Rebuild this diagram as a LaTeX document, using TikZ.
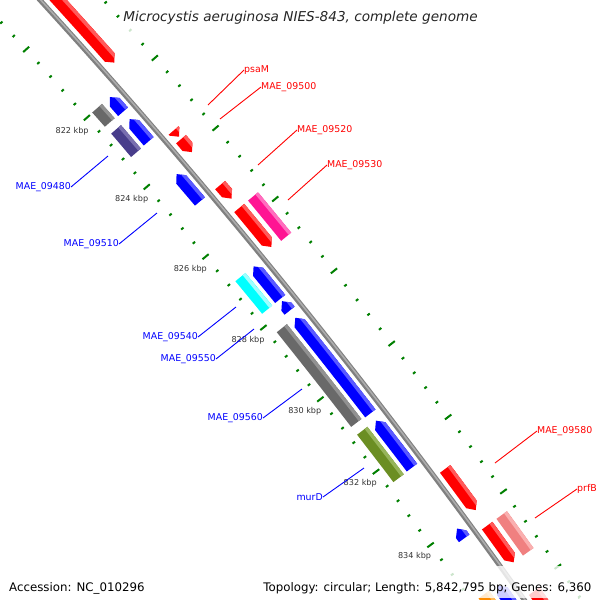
\documentclass[tikz,border=0pt]{standalone}
\usepackage{fontspec}
\setmainfont{DejaVu Sans}
\definecolor{gRed}{RGB}{255,0,0}
\definecolor{gRedL}{RGB}{255,90,90}
\definecolor{gBlue}{RGB}{0,0,255}
\definecolor{gBlueL}{RGB}{90,90,255}
\definecolor{gGray}{RGB}{105,105,105}
\definecolor{gGrayL}{RGB}{145,145,145}
\definecolor{gSlate}{RGB}{72,61,139}
\definecolor{gSlateL}{RGB}{120,110,175}
\definecolor{gCyan}{RGB}{0,255,255}
\definecolor{gCyanL}{RGB}{160,255,255}
\definecolor{gOlive}{RGB}{107,142,35}
\definecolor{gOliveL}{RGB}{150,180,90}
\definecolor{gPink}{RGB}{255,20,147}
\definecolor{gPinkL}{RGB}{255,110,190}
\definecolor{gSalmon}{RGB}{240,128,128}
\definecolor{gSalmonL}{RGB}{250,175,175}
\definecolor{gOrange}{RGB}{255,140,0}
\definecolor{gOrangeL}{RGB}{255,185,90}
\definecolor{gGreen}{RGB}{0,128,0}
\definecolor{gBack}{RGB}{128,128,128}
\definecolor{gBackL}{RGB}{172,172,172}
\newcommand\arrowh{0.064}
% forward gene: start, end, inner r, outer r, colour, light colour (tip at end)
\newcommand\FwdPath[4]{([shift={(C)}]#1:#3) arc[start angle=#1,end angle=\gneck,radius=#3] -- ([shift={(C)}]#2:\gmid) -- ([shift={(C)}]\gneck:#4) arc[start angle=\gneck,end angle=#1,radius=#4] -- cycle}
\newcommand\FwdGene[6]{%
  \pgfmathsetmacro\gmid{(#3+#4)/2}%
  \pgfmathsetmacro\gneck{#2-\arrowh}%
  \begin{scope}
    \fill[#5] ([shift={(C)}]#1:#3) arc[start angle=#1,end angle=\gneck,radius=#3] -- ([shift={(C)}]#2:\gmid) -- ([shift={(C)}]\gneck:#4) arc[start angle=\gneck,end angle=#1,radius=#4] -- cycle;
    \clip ([shift={(C)}]#1:#3) arc[start angle=#1,end angle=\gneck,radius=#3] -- ([shift={(C)}]#2:\gmid) -- ([shift={(C)}]\gneck:#4) arc[start angle=\gneck,end angle=#1,radius=#4] -- cycle;
    \draw[#6,line width=3.5pt] ([shift={(C)}]#1-0.1:#4-1.75) arc[start angle=#1-0.1,end angle=#2+0.1,radius=#4-1.75];
  \end{scope}}
% reverse gene: tip at start
\newcommand\RevGene[6]{%
  \pgfmathsetmacro\gmid{(#3+#4)/2}%
  \pgfmathsetmacro\gneck{#1+\arrowh}%
  \begin{scope}
    \fill[#5] ([shift={(C)}]#1:\gmid) -- ([shift={(C)}]\gneck:#4) arc[start angle=\gneck,end angle=#2,radius=#4] -- ([shift={(C)}]#2:#3) arc[start angle=#2,end angle=\gneck,radius=#3] -- cycle;
    \clip ([shift={(C)}]#1:\gmid) -- ([shift={(C)}]\gneck:#4) arc[start angle=\gneck,end angle=#2,radius=#4] -- ([shift={(C)}]#2:#3) arc[start angle=#2,end angle=\gneck,radius=#3] -- cycle;
    \draw[#6,line width=3.5pt] ([shift={(C)}]#1-0.1:#4-1.75) arc[start angle=#1-0.1,end angle=#2+0.1,radius=#4-1.75];
  \end{scope}}
% plain box feature
\newcommand\BoxFeat[6]{%
  \begin{scope}
    \fill[#5] ([shift={(C)}]#1:#3) arc[start angle=#1,end angle=#2,radius=#3] -- ([shift={(C)}]#2:#4) arc[start angle=#2,end angle=#1,radius=#4] -- cycle;
    \clip ([shift={(C)}]#1:#3) arc[start angle=#1,end angle=#2,radius=#3] -- ([shift={(C)}]#2:#4) arc[start angle=#2,end angle=#1,radius=#4] -- cycle;
    \draw[#6,line width=3.5pt] ([shift={(C)}]#1-0.1:#4-1.75) arc[start angle=#1-0.1,end angle=#2+0.1,radius=#4-1.75];
  \end{scope}}
\tikzset{
  glabR/.style={font=\fontsize{9.4}{11}\selectfont, text=gRed, inner sep=0pt, anchor=west},
  glabB/.style={font=\fontsize{9.4}{11}\selectfont, text=gBlue, inner sep=0pt, anchor=east},
  leadR/.style={draw=gRed, line width=0.9pt},
  leadB/.style={draw=gBlue, line width=0.9pt},
  tlab/.style={font=\fontsize{8.1}{10}\selectfont, text=black!80, inner sep=0pt},
  tickmin/.style={draw=gGreen, line width=2pt},
  tickmaj/.style={draw=gGreen, line width=2pt},
  veil/.style={fill=white, fill opacity=0.8},
  infotext/.style={font=\fontsize{11.8}{14}\selectfont, inner sep=0pt, text=black}
}
\begin{document}
\begin{tikzpicture}[x=1pt,y=-1pt]
\useasboundingbox (0,0) rectangle (600,600);
\fill[white] (0,0) rectangle (600,600);
\clip (0,0) rectangle (600,600);
\coordinate (C) at (-4621,4256);
% rulers
\foreach \i in {-17,...,36}{
  \pgfmathsetmacro\ang{-40.48+\i*0.16712}
  \pgfmathtruncatemacro\ismaj{mod(abs(\i),5)==0}
  \ifnum\ismaj=1
    \draw[tickmaj] ([shift={(C)}]\ang:6264.5) -- ([shift={(C)}]\ang:6272.5);
    \draw[tickmaj] ([shift={(C)}]\ang:6355) -- ([shift={(C)}]\ang:6363);
  \else
    \draw[tickmin] ([shift={(C)}]\ang:6267) -- ([shift={(C)}]\ang:6270);
    \draw[tickmin] ([shift={(C)}]\ang:6357.5) -- ([shift={(C)}]\ang:6360.5);
  \fi
}
\foreach \p in {822,824,...,834}{
  \pgfmathsetmacro\ang{-40.48+(\p-824)*0.4178}
  \node[tlab] (tk\p) at ([shift={(C)}]\ang:6248.7) {\p\ kbp};
}
% backbone
\draw[gBack,line width=5pt] ([shift={(C)}]-43.5:6312) arc[start angle=-43.5,end angle=-34,radius=6312];
\draw[gBackL,line width=1.6pt] ([shift={(C)}]-43.5:6312.6) arc[start angle=-43.5,end angle=-34,radius=6312.6];
% outer track 1 (forward)
\FwdGene{-43.5}{-41.526}{6319}{6332}{gRed}{gRedL}
\FwdGene{-40.71}{-40.635}{6319}{6332}{gRed}{gRedL}
\FwdGene{-40.607}{-40.453}{6319}{6332}{gRed}{gRedL}
\FwdGene{-40.06}{-39.90}{6319}{6332}{gRed}{gRedL}
\FwdGene{-39.79}{-39.333}{6319}{6332}{gRed}{gRedL}
\FwdGene{-36.78}{-36.315}{6319}{6332}{gRed}{gRedL}
\FwdGene{-36.14}{-35.73}{6319}{6332}{gRed}{gRedL}
\FwdGene{-35.41}{-34.0}{6319}{6332}{gRed}{gRedL}
% outer track 2
\BoxFeat{-39.79}{-39.32}{6337}{6350}{gPink}{gPinkL}
\BoxFeat{-36.14}{-35.73}{6337}{6350}{gSalmon}{gSalmonL}
% inner track 1 (reverse)
\RevGene{-41.318}{-41.139}{6293}{6306}{gBlue}{gBlueL}
\RevGene{-41.05}{-40.783}{6293}{6306}{gBlue}{gBlueL}
\RevGene{-40.392}{-40.065}{6293}{6306}{gBlue}{gBlueL}
\RevGene{-39.299}{-38.916}{6293}{6306}{gBlue}{gBlueL}
\RevGene{-38.89}{-38.78}{6293}{6306}{gBlue}{gBlueL}
\RevGene{-38.697}{-37.591}{6293}{6306}{gBlue}{gBlueL}
\RevGene{-37.508}{-36.969}{6293}{6306}{gBlue}{gBlueL}
\RevGene{-36.28}{-36.17}{6293}{6306}{gBlue}{gBlueL}
\RevGene{-35.64}{-34.0}{6293}{6306}{gBlue}{gBlueL}
% inner track 2
\BoxFeat{-41.32}{-41.145}{6276}{6289}{gGray}{gGrayL}
\BoxFeat{-41.06}{-40.78}{6276}{6289}{gSlate}{gSlateL}
\BoxFeat{-39.30}{-38.915}{6276}{6289}{gCyan}{gCyanL}
\BoxFeat{-38.70}{-37.60}{6276}{6289}{gGray}{gGrayL}
\BoxFeat{-37.51}{-36.965}{6276}{6289}{gOlive}{gOliveL}
\BoxFeat{-35.65}{-34.0}{6276}{6289}{gOrange}{gOrangeL}
% labels
\node[glabR] (psaM) at (244,70) {psaM};
\node[glabR] (m9500) at (261,87) {MAE\_09500};
\node[glabR] (m9520) at (297,130) {MAE\_09520};
\node[glabR] (m9530) at (327,165) {MAE\_09530};
\node[glabR] (m9580) at (537,431) {MAE\_09580};
\node[glabR] (prfB) at (577,489) {prfB};
\node[glabB] (m9480) at (71,187) {MAE\_09480};
\node[glabB] (m9510) at (119,244) {MAE\_09510};
\node[glabB] (m9540) at (198,337) {MAE\_09540};
\node[glabB] (m9550) at (216,359) {MAE\_09550};
\node[glabB] (m9560) at (263,418) {MAE\_09560};
\node[glabB] (murD) at (323,497) {murD};
\coordinate (apsaM) at (208,105);
\coordinate (a9500) at (220,119);
\coordinate (a9520) at (258,165);
\coordinate (a9530) at (288,200);
\coordinate (a9580) at (495,463);
\coordinate (aprfB) at (535,518);
\coordinate (a9480) at (108,156);
\coordinate (a9510) at (157,213);
\coordinate (a9540) at (236,307);
\coordinate (a9550) at (254,329);
\coordinate (a9560) at (302,389);
\coordinate (amurD) at (364,468);
\draw[leadR] (apsaM) -- (psaM.west);
\draw[leadR] (a9500) -- (m9500.west);
\draw[leadR] (a9520) -- (m9520.west);
\draw[leadR] (a9530) -- (m9530.west);
\draw[leadR] (a9580) -- (m9580.west);
\draw[leadR] (aprfB) -- (prfB.west);
\draw[leadB] (a9480) -- (m9480.east);
\draw[leadB] (a9510) -- (m9510.east);
\draw[leadB] (a9540) -- (m9540.east);
\draw[leadB] (a9550) -- (m9550.east);
\draw[leadB] (a9560) -- (m9560.east);
\draw[leadB] (amurD) -- (murD.east);
% veils and info text
\fill[veil] (120,2) rectangle (484,34);
\fill[veil] (5,566) rectangle (147,598);
\fill[veil] (257,566) rectangle (596,598);
\node[font=\fontsize{13.6}{16}\selectfont\itshape, text=black!85, inner sep=0pt] (title) at (300.5,18) {Microcystis aeruginosa NIES-843, complete genome};
\node[infotext, anchor=base west] (acc) at (9,591) {Accession: NC\_010296};
\node[infotext, anchor=base east] (topo) at (591.5,591) {Topology: circular; Length: 5,842,795 bp; Genes: 6,360};
\end{tikzpicture}
\end{document}
